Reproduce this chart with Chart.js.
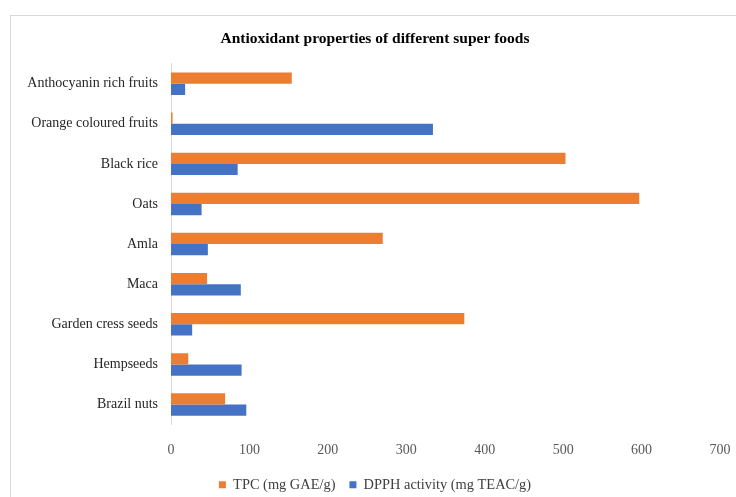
<!DOCTYPE html>
<html>
<head>
<meta charset="utf-8">
<script src="https://cdn.jsdelivr.net/npm/chart.js@4.4.1/dist/chart.umd.min.js"></script>
<style>
  html, body { margin: 0; padding: 0; background: #fff; }
  #wrap { position: relative; width: 736px; height: 497px; overflow: hidden; }
  #frame { position: absolute; left: 10px; top: 15px; width: 800px; height: 600px;
           border-left: 1px solid #d9d9d9; border-top: 1px solid #d9d9d9; }
  canvas { position: absolute; left: 0; top: 0; }
</style>
</head>
<body>
<div id="wrap">
  <div id="frame"></div>
  <canvas id="chart" width="736" height="497"></canvas>
</div>
<script>
// 食品カテゴリ（上から順）
const foods = [
  'Anthocyanin rich fruits',
  'Orange coloured fruits',
  'Black rice',
  'Oats',
  'Amla',
  'Maca',
  'Garden cress seeds',
  'Hempseeds',
  'Brazil nuts'
];

// TPC (mg GAE/g)
const tpc = [154, 2, 503, 597, 270, 46, 374, 22, 69];

// DPPH activity (mg TEAC/g)
const dpph = [18, 334, 85, 39, 47, 89, 27, 90, 96];

// x軸の目盛り
const xTicks = [0, 100, 200, 300, 400, 500, 600, 700];

const serif = '"Liberation Serif", "Times New Roman", serif';

const ctx = document.getElementById('chart');
new Chart(ctx, {
  type: 'bar',
  data: {
    labels: foods,
    datasets: [{
      label: 'TPC (mg GAE/g)',
      data: tpc,
      backgroundColor: '#ED7D31',
      categoryPercentage: 0.56,
      barPercentage: 1.0
    }, {
      label: 'DPPH activity (mg TEAC/g)',
      data: dpph,
      backgroundColor: '#4472C4',
      categoryPercentage: 0.56,
      barPercentage: 1.0
    }]
  },
  options: {
    indexAxis: 'y',
    responsive: false,
    animation: false,
    layout: {
      // タイトルと凡例の中心を少し右へ寄せるため右は負の値
      padding: { left: 0, right: -14, top: 0, bottom: -5 }
    },
    plugins: {
      title: {
        display: true,
        text: 'Antioxidant properties of different super foods',
        color: '#000',
        font: { family: serif, size: 15.5, weight: 'bold' },
        padding: { top: 30, bottom: 15 }
      },
      legend: {
        position: 'bottom',
        labels: {
          boxWidth: 7,
          boxHeight: 7,
          color: '#404040',
          font: { family: serif, size: 14.4 },
          padding: 14
        }
      },
      tooltip: { enabled: false }
    },
    scales: {
      x: {
        min: 0,
        max: 700,
        afterBuildTicks: function (axis) {
          axis.ticks = xTicks.map(v => ({ value: v }));
        },
        grid: { display: false, drawTicks: false },
        border: { display: false },
        ticks: {
          color: '#595959',
          font: { family: serif, size: 14 },
          padding: 17,
          maxRotation: 0
        },
        afterFit: function (axis) {
          axis.height = 39;
          axis.paddingRight = 16;
          axis.paddingLeft = 0;
        }
      },
      y: {
        grid: { display: false, drawTicks: false },
        border: { display: true, color: '#d9d9d9', width: 1 },
        ticks: {
          color: '#262626',
          font: { family: serif, size: 14 },
          padding: 13
        },
        afterFit: function (axis) {
          axis.width = 171;
        }
      }
    }
  }
});
</script>
</body>
</html>
